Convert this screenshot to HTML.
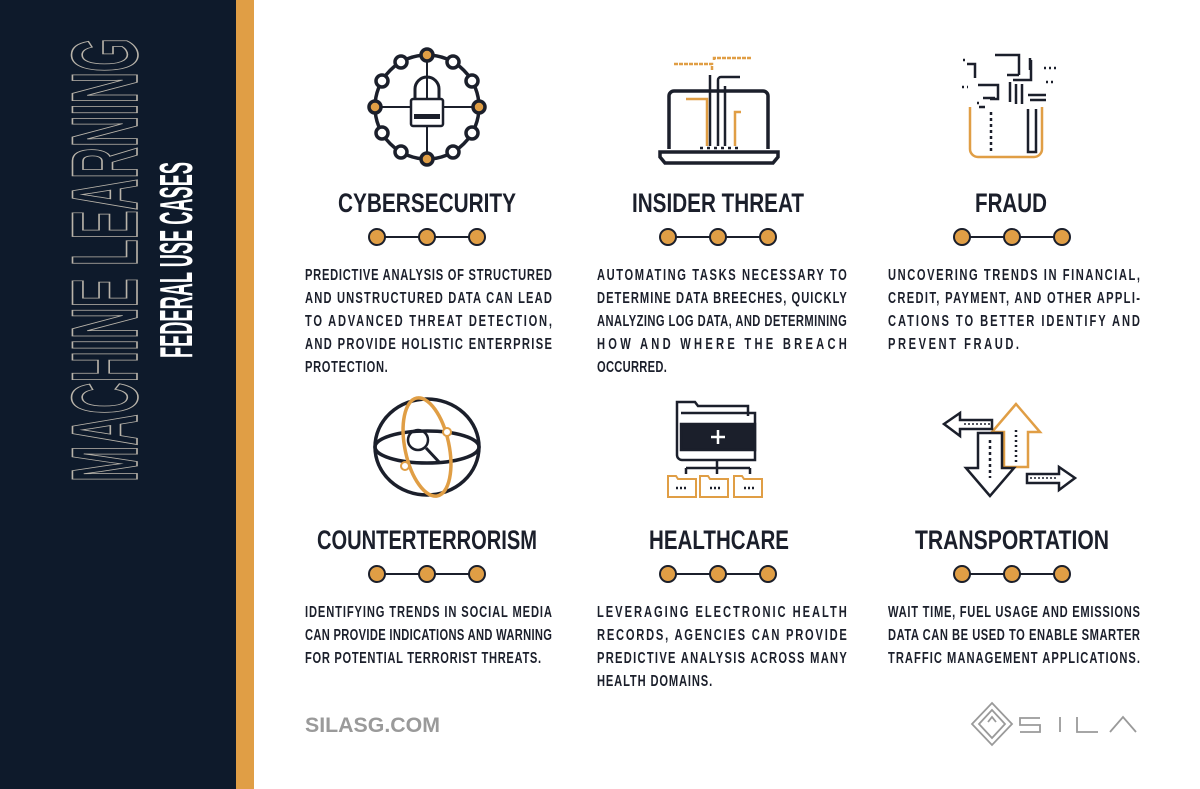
<!DOCTYPE html>
<html><head><meta charset="utf-8"><style>
html,body{margin:0;padding:0;background:#fff;}
svg{display:block}
.t{font-family:"Liberation Sans",sans-serif;font-weight:bold;fill:#1b1f2b;}
.h{font-size:27px;text-anchor:middle;}
.b{font-size:15.5px;}
</style></head><body>
<svg width="1200" height="789" viewBox="0 0 1200 789" xmlns="http://www.w3.org/2000/svg">
<rect x="0" y="0" width="236" height="789" fill="#0e1a2b"/>
<rect x="236" y="0" width="18" height="789" fill="#e09e45"/>
<text transform="rotate(-90)" x="-482" y="137" font-family="Liberation Sans, sans-serif" font-weight="bold" font-size="94" textLength="444" lengthAdjust="spacingAndGlyphs" fill="none" stroke="#b9b4aa" stroke-width="1.6">MACHINE LEARNING</text>
<text transform="rotate(-90)" x="-358" y="192" font-family="Liberation Sans, sans-serif" font-weight="bold" font-size="46" textLength="196" lengthAdjust="spacingAndGlyphs" fill="#fff">FEDERAL USE CASES</text>

<g stroke="#1b1f2b" stroke-width="2" fill="#e09e45">
<g id="d"><line x1="377" y1="237" x2="477" y2="237"/><circle cx="377" cy="237" r="8"/><circle cx="427" cy="237" r="8"/><circle cx="477" cy="237" r="8"/></g>
<use href="#d" x="291"/><use href="#d" x="585"/>
<use href="#d" y="337"/><use href="#d" x="291" y="337"/><use href="#d" x="585" y="337"/>
</g>

<text class="t h" x="427" y="212" textLength="178" lengthAdjust="spacingAndGlyphs">CYBERSECURITY</text>
<text class="t h" x="718" y="212" textLength="172" lengthAdjust="spacingAndGlyphs">INSIDER THREAT</text>
<text class="t h" x="1011" y="212" textLength="72" lengthAdjust="spacingAndGlyphs">FRAUD</text>
<text class="t h" x="427" y="549" textLength="220" lengthAdjust="spacingAndGlyphs">COUNTERTERRORISM</text>
<text class="t h" x="719" y="549" textLength="140" lengthAdjust="spacingAndGlyphs">HEALTHCARE</text>
<text class="t h" x="1012" y="549" textLength="194" lengthAdjust="spacingAndGlyphs">TRANSPORTATION</text>

<g class="t b">
<text transform="translate(305 280) scale(.72 1)" textLength="343" lengthAdjust="spacing">PREDICTIVE ANALYSIS OF STRUCTURED</text>
<text transform="translate(305 303) scale(.72 1)" textLength="343" lengthAdjust="spacing">AND UNSTRUCTURED DATA CAN LEAD</text>
<text transform="translate(305 326) scale(.72 1)" textLength="343" lengthAdjust="spacing">TO ADVANCED THREAT DETECTION,</text>
<text transform="translate(305 349) scale(.72 1)" textLength="343" lengthAdjust="spacing">AND PROVIDE HOLISTIC ENTERPRISE</text>
<text transform="translate(305 372) scale(.72 1)" textLength="115" lengthAdjust="spacing">PROTECTION.</text>

<text transform="translate(597 280) scale(.72 1)" textLength="347" lengthAdjust="spacing">AUTOMATING TASKS NECESSARY TO</text>
<text transform="translate(597 303) scale(.72 1)" textLength="347" lengthAdjust="spacing">DETERMINE DATA BREECHES, QUICKLY</text>
<text transform="translate(597 326) scale(.72 1)" textLength="347" lengthAdjust="spacing">ANALYZING LOG DATA, AND DETERMINING</text>
<text transform="translate(597 349) scale(.72 1)" textLength="347" lengthAdjust="spacing">HOW AND WHERE THE BREACH</text>
<text transform="translate(597 372) scale(.72 1)" textLength="97" lengthAdjust="spacing">OCCURRED.</text>

<text transform="translate(888 280) scale(.72 1)" textLength="350" lengthAdjust="spacing">UNCOVERING TRENDS IN FINANCIAL,</text>
<text transform="translate(888 303) scale(.72 1)" textLength="350" lengthAdjust="spacing">CREDIT, PAYMENT, AND OTHER APPLI-</text>
<text transform="translate(888 326) scale(.72 1)" textLength="350" lengthAdjust="spacing">CATIONS TO BETTER IDENTIFY AND</text>
<text transform="translate(888 349) scale(.72 1)" textLength="182" lengthAdjust="spacing">PREVENT FRAUD.</text>

<text transform="translate(305 617) scale(.72 1)" textLength="343" lengthAdjust="spacing">IDENTIFYING TRENDS IN SOCIAL MEDIA</text>
<text transform="translate(305 640) scale(.72 1)" textLength="343" lengthAdjust="spacing">CAN PROVIDE INDICATIONS AND WARNING</text>
<text transform="translate(305 663) scale(.72 1)" textLength="328" lengthAdjust="spacing">FOR POTENTIAL TERRORIST THREATS.</text>

<text transform="translate(597 617) scale(.72 1)" textLength="347" lengthAdjust="spacing">LEVERAGING ELECTRONIC HEALTH</text>
<text transform="translate(597 640) scale(.72 1)" textLength="347" lengthAdjust="spacing">RECORDS, AGENCIES CAN PROVIDE</text>
<text transform="translate(597 663) scale(.72 1)" textLength="347" lengthAdjust="spacing">PREDICTIVE ANALYSIS ACROSS MANY</text>
<text transform="translate(597 686) scale(.72 1)" textLength="160" lengthAdjust="spacing">HEALTH DOMAINS.</text>

<text transform="translate(888 617) scale(.72 1)" textLength="350" lengthAdjust="spacing">WAIT TIME, FUEL USAGE AND EMISSIONS</text>
<text transform="translate(888 640) scale(.72 1)" textLength="350" lengthAdjust="spacing">DATA CAN BE USED TO ENABLE SMARTER</text>
<text transform="translate(888 663) scale(.72 1)" textLength="350" lengthAdjust="spacing">TRAFFIC MANAGEMENT APPLICATIONS.</text>
</g>

<!-- cybersecurity icon -->
<g stroke="#1b1f2b" stroke-width="3.5" fill="#fff">
<circle cx="427" cy="107" r="52" fill="none"/>
<line x1="375" y1="107" x2="479" y2="107" stroke-width="2"/>
<line x1="427" y1="55" x2="427" y2="159" stroke-width="2"/>
<circle cx="427" cy="55" r="6" fill="#e09e45"/><circle cx="427" cy="159" r="6" fill="#e09e45"/>
<circle cx="375" cy="107" r="6" fill="#e09e45"/><circle cx="479" cy="107" r="6" fill="#e09e45"/>
<circle cx="453" cy="62" r="6"/><circle cx="472" cy="81" r="6"/><circle cx="472" cy="133" r="6"/><circle cx="453" cy="152" r="6"/>
<circle cx="401" cy="62" r="6"/><circle cx="382" cy="81" r="6"/><circle cx="382" cy="133" r="6"/><circle cx="401" cy="152" r="6"/>
<path d="M415 99 v-10 a12 12 0 0 1 24 0 v10" fill="none" stroke-width="3"/>
<rect x="411" y="99" width="32" height="27" rx="2" stroke-width="2.5"/>
<rect x="414" y="114" width="26" height="5" fill="#1b1f2b" stroke="none"/>
</g>

<!-- insider threat icon -->
<g stroke="#1b1f2b" stroke-width="3.5" fill="none">
<path d="M669 149 V96 a5 5 0 0 1 5 -5 H763 a5 5 0 0 1 5 5 V149"/>
<path d="M660 152 h118 v5 l-5 6 h-108 l-5 -6 z"/>
<line x1="700" y1="148" x2="740" y2="148" stroke-width="2.5" stroke-dasharray="3 4"/>
<path d="M710 146 V75 M718 146 V80 a3 3 0 0 1 3 -3 H740 M725 146 V86" stroke-width="2.5"/>
<path d="M712 70 V64 H673 M714 60 V58 H752" stroke="#e09e45" stroke-width="2.5" stroke-dasharray="4 1"/>
<path d="M707 146 V99 H686 M735 146 V112 H741" stroke="#e09e45" stroke-width="2.5"/>
</g>

<!-- fraud icon -->
<g stroke="#1b1f2b" stroke-width="2.5" fill="none">
<path d="M970 107 v42 a8 8 0 0 0 8 8 h56 a8 8 0 0 0 8 -8 v-42" stroke="#e09e45" stroke-width="2.5"/>
<line x1="991" y1="112" x2="991" y2="152" stroke-dasharray="3 3"/>
<path d="M1036 109 v43 h-8 v-43"/>
<path d="M967 64 h8 v14 M995 55 h10 M1003 55 h16 v20 M1019 75 h-12 M1013 80 h18 v-20 M978 85 h20 v14 h-8 M1028 95 h18 M1010 82 v20 M1016 84 v20 M1022 84 v20 M1030 100 h16 M983 98 h12 M985 107 h-6 M1030 70 v-12"/>
<path d="M963 60 h2 M1044 68 h12 M1046 82 h8 M962 87 h6 M977 103 h2" stroke-dasharray="2 3"/>
</g>

<!-- globe icon -->
<g fill="none" stroke-width="3.5">
<ellipse cx="427" cy="447" rx="52" ry="48" stroke="#1b1f2b"/>
<ellipse cx="427" cy="447" rx="52" ry="16" stroke="#1b1f2b"/>
<ellipse cx="427" cy="447" rx="22" ry="50" stroke="#e09e45" transform="rotate(-12 427 447)"/>
<circle cx="418" cy="440" r="10" stroke="#1b1f2b" stroke-width="2.5"/>
<line x1="426" y1="448" x2="440" y2="463" stroke="#1b1f2b" stroke-width="3"/>
<circle cx="447" cy="432" r="4" fill="#fff" stroke="#e09e45" stroke-width="2"/>
<circle cx="405" cy="466" r="4" fill="#fff" stroke="#e09e45" stroke-width="2"/>
</g>

<!-- healthcare folder icon -->
<g stroke="#1b1f2b" stroke-width="2.5" fill="none">
<path d="M677 455 V402 h18 l3 4 h50 v10"/>
<path d="M677 455 a5 5 0 0 0 5 5 h73 V413 H681"/>
<rect x="681" y="424" width="74" height="26" fill="#1b1f2b"/>
<path d="M718 430 v14 M711 437 h14" stroke="#fff" stroke-width="2.5"/>
<path d="M717 460 v8 M686 468 h64 M686 468 v6 M717 468 v6 M750 468 v6"/>
<g stroke="#e09e45" stroke-width="2">
<path d="M668 497 v-21 h8 l2 3 h18 v18 z"/>
<path d="M700 497 v-21 h8 l2 3 h18 v18 z"/>
<path d="M734 497 v-21 h8 l2 3 h18 v18 z"/>
</g>
<path d="M676 488 h10 M710 488 h10 M744 488 h10" stroke-dasharray="2 2"/>
</g>

<!-- transportation icon -->
<g fill="none" stroke-width="2.5">
<path d="M1016 404 l-24 28 h12 v35 h24 v-35 h12 z" stroke="#e09e45"/>
<path d="M944 424 l16 -11 v7 h32 v9 h-32 v7 z" stroke="#1b1f2b"/>
<path d="M1075 478 l-16 -11 v7 h-32 v9 h32 v7 z" stroke="#1b1f2b"/>
<path d="M990 496 l-24 -28 h12 v-35 h24 v35 h12 z" stroke="#1b1f2b"/>
<line x1="990" y1="440" x2="990" y2="478" stroke="#1b1f2b" stroke-dasharray="3 3"/>
<line x1="1016" y1="430" x2="1016" y2="462" stroke="#1b1f2b" stroke-dasharray="2 3"/>
<line x1="964" y1="424" x2="990" y2="424" stroke="#1b1f2b" stroke-width="1.5" stroke-dasharray="2 2"/>
<line x1="1030" y1="478" x2="1058" y2="478" stroke="#1b1f2b" stroke-width="1.5" stroke-dasharray="2 2"/>
</g>

<!-- footer -->
<text x="305" y="732" font-family="Liberation Sans, sans-serif" font-weight="bold" font-size="21" fill="#9a9a9a" textLength="135" lengthAdjust="spacingAndGlyphs">SILASG.COM</text>
<g stroke="#9a9a9a" fill="none" stroke-width="1.8">
<path d="M992 703 l20 21 l-20 21 l-20 -21 z"/>
<path d="M992 710 l13 14 l-13 14 l-13 -14 z"/>
<path d="M988 722 l4 -5 l4 5"/>
<path d="M1040 718 h-20 v7 h20 v7 h-20"/>
<path d="M1060 717 v15"/>
<path d="M1077 717 v15 h21"/>
<path d="M1110 732 l13 -15 l13 15"/>
</g>
</svg>
</body></html>
